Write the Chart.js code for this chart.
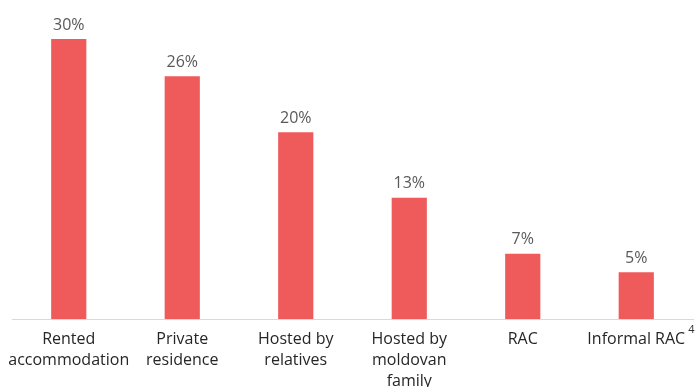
<!DOCTYPE html>
<html>
<head>
<meta charset="utf-8">
<script src="https://cdn.jsdelivr.net/npm/chart.js@4/dist/chart.umd.min.js"></script>
<style>
  html, body { margin: 0; padding: 0; background: #fff; }
  #wrap { width: 695px; height: 387px; position: relative; }
</style>
</head>
<body>
<div id="wrap"><canvas id="chart"></canvas></div>
<script>
// Accommodation types and share of respondents (%)
const categories = [
  ['Rented', 'accommodation'],
  ['Private', 'residence'],
  ['Hosted by', 'relatives'],
  ['Hosted by', 'moldovan', 'family'],
  ['RAC'],
  ['Informal RAC']
];
const shares = [30, 26, 20, 13, 7, 5];
const footnoteMark = '4';

const FONT = '"Open Sans", "Noto Sans", sans-serif';

// Percent labels above each bar, plus the footnote mark after the last category
const barLabels = {
  id: 'barLabels',
  afterDatasetsDraw(chart) {
    const ctx = chart.ctx;
    const meta = chart.getDatasetMeta(0);
    ctx.save();
    ctx.font = '16px ' + FONT;
    ctx.fillStyle = '#595959';
    ctx.textAlign = 'center';
    ctx.textBaseline = 'bottom';
    meta.data.forEach((bar, i) => {
      ctx.fillText(shares[i] + '%', bar.x, bar.y - 6);
    });
    // footnote superscript
    const xs = chart.scales.x;
    const last = categories.length - 1;
    const cx = xs.getPixelForValue(last);
    ctx.font = '16px ' + FONT;
    const w = ctx.measureText(categories[last][0]).width;
    ctx.font = '11px ' + FONT;
    ctx.fillStyle = '#333';
    ctx.textAlign = 'left';
    ctx.textBaseline = 'middle';
    ctx.fillText(footnoteMark, cx + w / 2 + 3, 330);
    ctx.restore();
  }
};

new Chart(document.getElementById('chart'), {
  type: 'bar',
  data: {
    labels: categories,
    datasets: [{
      data: shares,
      backgroundColor: '#EF5A5B',
      borderWidth: 0,
      categoryPercentage: 1,
      barPercentage: 0.31
    }]
  },
  options: {
    responsive: true,
    maintainAspectRatio: false,
    animation: false,
    layout: { padding: { top: 39, left: 12, right: 2, bottom: 0 } },
    plugins: {
      legend: { display: false },
      tooltip: { enabled: false }
    },
    scales: {
      x: {
        grid: { display: false, drawTicks: false },
        border: { display: true, color: '#d9d9d9', width: 1 },
        ticks: {
          color: '#262626',
          font: { family: FONT, size: 16, lineHeight: 1.3 },
          padding: 10,
          maxRotation: 0,
          autoSkip: false
        },
        afterFit(scale) {
          scale.height = 68;
          scale.paddingLeft = 0;
          scale.paddingRight = 0;
        }
      },
      y: {
        display: false,
        min: 0,
        max: 30
      }
    }
  },
  plugins: [barLabels]
});
</script>
</body>
</html>
